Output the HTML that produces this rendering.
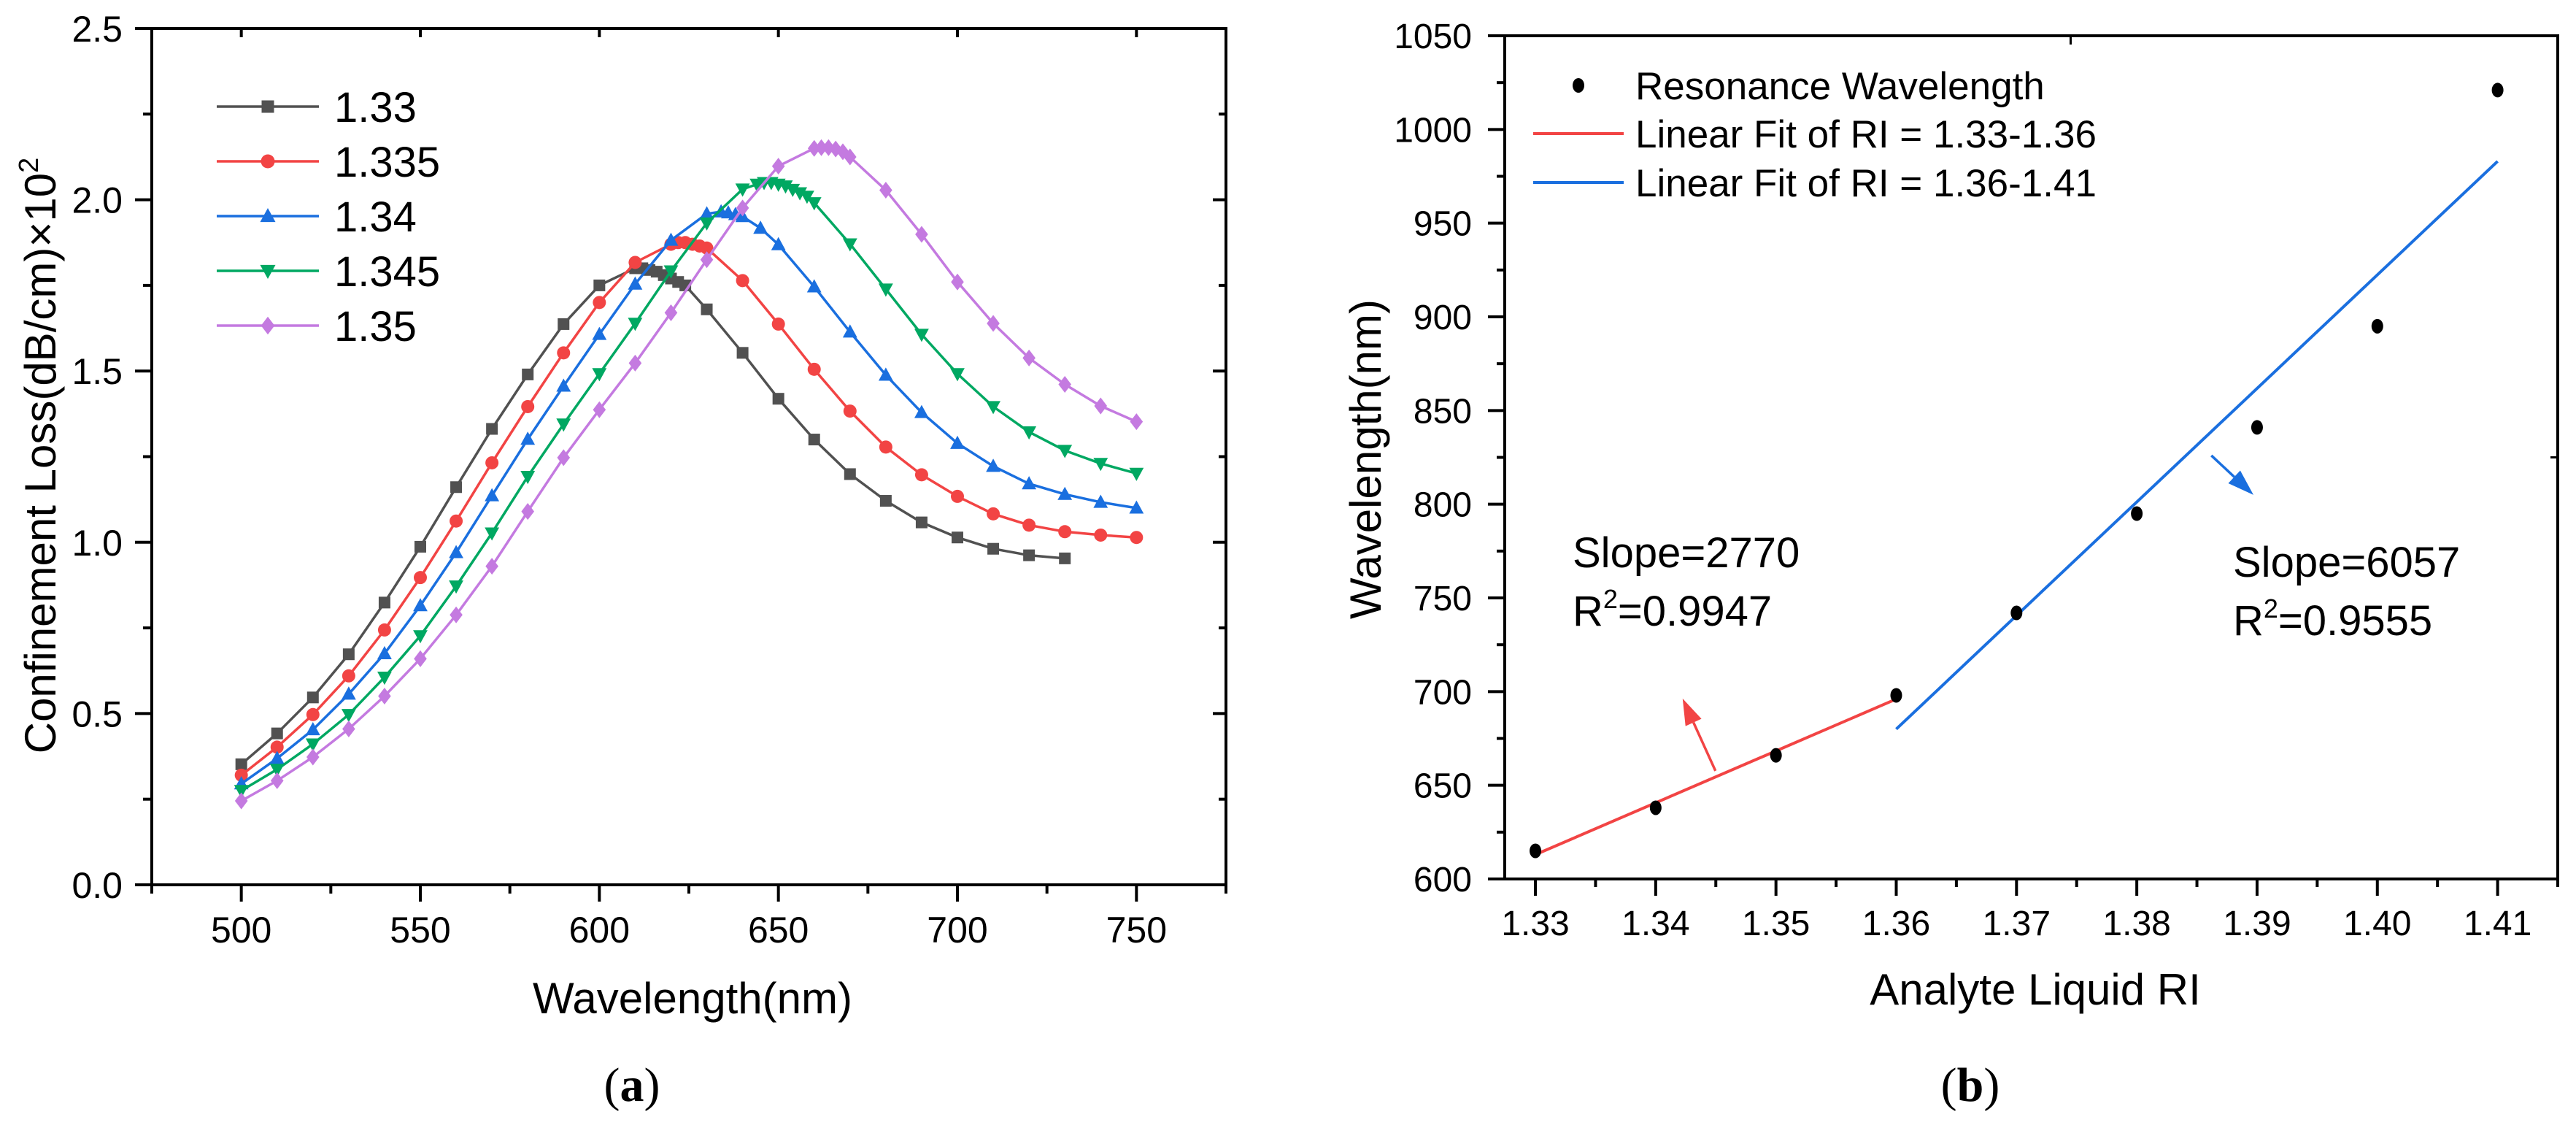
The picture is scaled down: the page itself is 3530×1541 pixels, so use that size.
<!DOCTYPE html>
<html><head><meta charset="utf-8">
<style>
html,body{margin:0;padding:0;background:#fff;}
svg{display:block;font-family:"Liberation Sans",Arial,sans-serif;}
</style></head>
<body>
<svg id="fig" width="3530" height="1541" viewBox="0 0 3530 1541" xmlns="http://www.w3.org/2000/svg">
<rect width="3530" height="1541" fill="#fff"/>
<g id="pa"></g>
<g id="pb"></g>
</svg>
<script>
// ---------- Panel (a) data ----------
const aXTicks = [500, 550, 600, 650, 700, 750];
const aYTicks = [0.0, 0.5, 1.0, 1.5, 2.0, 2.5];
const aNames = ["1.33", "1.335", "1.34", "1.345", "1.35"];
const aColors = ["#515151", "#f24444", "#1a6fdf", "#00a862", "#c47ae0"];
const aMarkers = ["square", "circle", "up", "down", "diamond"];
const x133 = [500,510,520,530,540,550,560,570,580,590,600,610,612,614,616,618,620,622,624,630,640,650,660,670,680,690,700,710,720,730];
const y133 = [0.352,0.442,0.547,0.673,0.824,0.987,1.161,1.331,1.49,1.637,1.75,1.80,1.80,1.795,1.79,1.78,1.77,1.76,1.75,1.68,1.553,1.419,1.30,1.199,1.121,1.058,1.014,0.981,0.962,0.953];
const x1335 = [500,510,520,530,540,550,560,570,580,590,600,610,620,622,624,626,628,630,640,650,660,670,680,690,700,710,720,730,740,750];
const y1335 = [0.32,0.402,0.497,0.61,0.744,0.897,1.062,1.232,1.396,1.553,1.70,1.817,1.87,1.875,1.875,1.87,1.865,1.859,1.764,1.637,1.505,1.383,1.278,1.197,1.134,1.083,1.05,1.031,1.021,1.014];
const x134 = [500,510,520,530,540,550,560,570,580,590,600,610,620,630,634,636,638,640,645,650,660,670,680,690,700,710,720,730,740,750];
const y134 = [0.295,0.369,0.453,0.557,0.675,0.815,0.970,1.136,1.301,1.456,1.607,1.754,1.882,1.959,1.965,1.962,1.957,1.951,1.917,1.869,1.746,1.614,1.488,1.379,1.289,1.222,1.171,1.14,1.117,1.10];
const x1345 = [500,510,520,530,540,550,560,570,580,590,600,610,620,630,640,644,646,648,650,652,654,656,658,660,670,680,690,700,710,720,730,740,750];
const y1345 = [0.275,0.337,0.411,0.497,0.606,0.727,0.872,1.027,1.192,1.345,1.492,1.639,1.792,1.932,2.031,2.045,2.05,2.05,2.045,2.04,2.03,2.02,2.01,1.991,1.871,1.739,1.607,1.492,1.396,1.322,1.268,1.230,1.201];
const x135 = [500,510,520,530,540,550,560,570,580,590,600,610,620,630,640,650,660,662,664,666,668,670,680,690,700,710,720,730,740,750];
const y135 = [0.245,0.304,0.373,0.455,0.551,0.66,0.788,0.93,1.09,1.247,1.387,1.523,1.67,1.825,1.976,2.098,2.15,2.152,2.152,2.148,2.14,2.125,2.028,1.899,1.760,1.639,1.538,1.461,1.398,1.352];
const aXs = [x133, x1335, x134, x1345, x135];
const aYs = [y133, y1335, y134, y1345, y135];

// ---------- Panel (b) data ----------
const bXTicks = [1.33,1.34,1.35,1.36,1.37,1.38,1.39,1.40,1.41];
const bXTickLabels = ["1.33","1.34","1.35","1.36","1.37","1.38","1.39","1.40","1.41"];
const bYTicks = [600,650,700,750,800,850,900,950,1000,1050];
const bRI = [1.33,1.34,1.35,1.36,1.37,1.38,1.39,1.40,1.41];
const bRes = [615,638,666,698,742,795,841,895,1021];
const fit1X = [1.33, 1.36];
const fit1Y = [613, 696];
const fit2X = [1.36, 1.41];
const fit2Y = [680, 983];
const arrow1 = [1.34497, 657.7, 1.34224, 696.3];
const arrow2 = [1.3862, 826, 1.3897, 805];

const NS = "http://www.w3.org/2000/svg";
function mk(parent, tag, attrs, text) {
  const e = document.createElementNS(NS, tag);
  for (const k in attrs) e.setAttribute(k, attrs[k]);
  if (text !== undefined) e.textContent = text;
  parent.appendChild(e);
  return e;
}

// ===== Panel a =====
const pa = document.getElementById("pa");
const aL = 208, aR = 1680, aT = 39, aB = 1212;
const aXmin = 475, aXmax = 775, aYmin = 0, aYmax = 2.5;
function ax(v) { return aL + (v - aXmin) / (aXmax - aXmin) * (aR - aL); }
function ay(v) { return aB - (v - aYmin) / (aYmax - aYmin) * (aB - aT); }

function marker(parent, type, cx, cy, s, color) {
  let e;
  if (type === "square") e = mk(parent, "rect", {x: cx - s/2, y: cy - s/2, width: s, height: s, fill: color});
  else if (type === "circle") e = mk(parent, "circle", {cx: cx, cy: cy, r: s/2 + 1, fill: color});
  else if (type === "up") e = mk(parent, "polygon", {points: `${cx},${cy - s*0.65} ${cx - s*0.62},${cy + s*0.48} ${cx + s*0.62},${cy + s*0.48}`, fill: color});
  else if (type === "down") e = mk(parent, "polygon", {points: `${cx},${cy + s*0.65} ${cx - s*0.62},${cy - s*0.48} ${cx + s*0.62},${cy - s*0.48}`, fill: color});
  else e = mk(parent, "polygon", {points: `${cx},${cy - s*0.72} ${cx + s*0.55},${cy} ${cx},${cy + s*0.72} ${cx - s*0.55},${cy}`, fill: color});
  return e;
}

for (let s = 0; s < aNames.length; s++) {
  const g = mk(pa, "g", {});
  
  
  const xs = aXs[s], ys = aYs[s];
  let d = "";
  for (let i = 0; i < xs.length; i++) d += (i ? "L" : "M") + ax(xs[i]).toFixed(1) + "," + ay(ys[i]).toFixed(1);
  const ln = mk(g, "path", {d: d, fill: "none", stroke: aColors[s], "stroke-width": 3.5, "stroke-linejoin": "round"});
  
  
  for (let i = 0; i < xs.length; i++) {
    const m = marker(g, aMarkers[s], ax(xs[i]), ay(ys[i]), 16, aColors[s]);
    
    
  }
}

// axes a
mk(pa, "rect", {x: aL, y: aT, width: aR - aL, height: aB - aT, fill: "none", stroke: "#000", "stroke-width": 4});
for (const v of aXTicks) {
  const t = mk(pa, "line", {x1: ax(v), y1: aB, x2: ax(v), y2: aB + 23, stroke: "#000", "stroke-width": 4});
  
  
  const lb = mk(pa, "text", {x: ax(v), y: aB + 79, "font-size": 50, "text-anchor": "middle"}, String(v));
  
  
}
for (let v = 475; v <= 775; v += 50) {
  mk(pa, "line", {x1: ax(v), y1: aB, x2: ax(v), y2: aB + 12, stroke: "#000", "stroke-width": 4});
}
for (const v of aYTicks) {
  const t = mk(pa, "line", {x1: aL - 23, y1: ay(v), x2: aL, y2: ay(v), stroke: "#000", "stroke-width": 4});
  
  
  mk(pa, "line", {x1: aR - 18, y1: ay(v), x2: aR, y2: ay(v), stroke: "#000", "stroke-width": 4});
  const lb = mk(pa, "text", {x: 168, y: ay(v) + 18, "font-size": 50, "text-anchor": "end"}, v.toFixed(1));
  
  
}
for (let v = 0.25; v < 2.5; v += 0.5) {
  mk(pa, "line", {x1: aL - 12, y1: ay(v), x2: aL, y2: ay(v), stroke: "#000", "stroke-width": 4});
  mk(pa, "line", {x1: aR - 10, y1: ay(v), x2: aR, y2: ay(v), stroke: "#000", "stroke-width": 4});
}
for (let v = 500; v <= 750; v += 50) {
  mk(pa, "line", {x1: ax(v), y1: aT, x2: ax(v), y2: aT + 12, stroke: "#000", "stroke-width": 4});
}
// legend a
for (let s = 0; s < aNames.length; s++) {
  const cy = 146 + s * 75;
  const g = mk(pa, "g", {});
  
  
  mk(g, "line", {x1: 297, y1: cy, x2: 437, y2: cy, stroke: aColors[s], "stroke-width": 3.5});
  marker(g, aMarkers[s], 367, cy, 17, aColors[s]);
  mk(g, "text", {x: 458, y: cy + 21, "font-size": 58}, aNames[s]);
}
const ayl = mk(pa, "text", {x: 0, y: 0, "font-size": 60, "text-anchor": "middle", transform: "translate(76,624) rotate(-90)"});


ayl.innerHTML = 'Confinement Loss(dB/cm)×10<tspan dy="-24" font-size="38">2</tspan>';
const axl = mk(pa, "text", {x: 949, y: 1388, "font-size": 60, "text-anchor": "middle"}, "Wavelength(nm)");


const capA = mk(pa, "text", {x: 866, y: 1508, "font-size": 66, "text-anchor": "middle", "font-family": "Liberation Serif, serif"});


capA.innerHTML = '(<tspan font-weight="bold">a</tspan>)';

// ===== Panel b =====
const pb = document.getElementById("pb");
const bL = 2062, bR = 3505, bT = 49, bB = 1204;
const bXmin = 1.32745, bXmax = 1.4150, bYmin = 600, bYmax = 1050;
function bx(v) { return bL + (v - bXmin) / (bXmax - bXmin) * (bR - bL); }
function by(v) { return bB - (v - bYmin) / (bYmax - bYmin) * (bB - bT); }

mk(pb, "rect", {x: bL, y: bT, width: bR - bL, height: bB - bT, fill: "none", stroke: "#000", "stroke-width": 4});
for (let i = 0; i < bXTicks.length; i++) {
  const v = bXTicks[i];
  const t = mk(pb, "line", {x1: bx(v), y1: bB, x2: bx(v), y2: bB + 23, stroke: "#000", "stroke-width": 4});
  
  
  mk(pb, "line", {x1: bx(v + 0.005), y1: bB, x2: bx(v + 0.005), y2: bB + 11, stroke: "#000", "stroke-width": 4});
  const lb = mk(pb, "text", {x: bx(v), y: bB + 77, "font-size": 48, "text-anchor": "middle"}, bXTickLabels[i]);
  
  
}
for (const v of bYTicks) {
  const t = mk(pb, "line", {x1: bL - 23, y1: by(v), x2: bL, y2: by(v), stroke: "#000", "stroke-width": 4});
  
  
  if (v < 1050) mk(pb, "line", {x1: bL - 11, y1: by(v + 25), x2: bL, y2: by(v + 25), stroke: "#000", "stroke-width": 4});
  const lb = mk(pb, "text", {x: 2017, y: by(v) + 17, "font-size": 48, "text-anchor": "end"}, String(v));
  
  
}
mk(pb, "line", {x1: bx(1.3745), y1: bT, x2: bx(1.3745), y2: bT + 12, stroke: "#000", "stroke-width": 3});
mk(pb, "line", {x1: bR - 10, y1: by(825), x2: bR, y2: by(825), stroke: "#000", "stroke-width": 3});

// fit lines
const f1 = mk(pb, "line", {x1: bx(fit1X[0]), y1: by(fit1Y[0]), x2: bx(fit1X[1]), y2: by(fit1Y[1]), stroke: "#f24444", "stroke-width": 4});


const f2 = mk(pb, "line", {x1: bx(fit2X[0]), y1: by(fit2Y[0]), x2: bx(fit2X[1]), y2: by(fit2Y[1]), stroke: "#1a6fdf", "stroke-width": 4});


// points
for (let i = 0; i < bRI.length; i++) {
  const c = mk(pb, "ellipse", {cx: bx(bRI[i]), cy: by(bRes[i]), rx: 8, ry: 10, fill: "#000"});
  
  
}
// arrows
function arrow(a, color, name) {
  const x1 = bx(a[0]), y1 = by(a[1]), x2 = bx(a[2]), y2 = by(a[3]);
  const ang = Math.atan2(y2 - y1, x2 - x1), L = 36, W = 12;
  const bxp = x2 - L * Math.cos(ang), byp = y2 - L * Math.sin(ang);
  const g = mk(pb, "g", {});
  
  
  mk(g, "line", {x1: x1, y1: y1, x2: bxp, y2: byp, stroke: color, "stroke-width": 3.5});
  mk(g, "polygon", {points: `${x2},${y2} ${bxp - W*Math.sin(ang)},${byp + W*Math.cos(ang)} ${bxp + W*Math.sin(ang)},${byp - W*Math.cos(ang)}`, fill: color});
}
arrow(arrow1, "#f24444", "arrow-red");
arrow(arrow2, "#1a6fdf", "arrow-blue");

// annotations
const s1 = mk(pb, "text", {x: 2155, y: 777, "font-size": 58}, "Slope=2770");


const r1 = mk(pb, "text", {x: 2155, y: 857, "font-size": 58});


r1.innerHTML = 'R<tspan dy="-24" font-size="36">2</tspan><tspan dy="24">=0.9947</tspan>';
const s2 = mk(pb, "text", {x: 3060, y: 790, "font-size": 58}, "Slope=6057");


const r2 = mk(pb, "text", {x: 3060, y: 870, "font-size": 58});


r2.innerHTML = 'R<tspan dy="-24" font-size="36">2</tspan><tspan dy="24">=0.9555</tspan>';

// legend b
const lg = mk(pb, "g", {});


mk(lg, "ellipse", {cx: 2163, cy: 117, rx: 8, ry: 10, fill: "#000"});
mk(lg, "text", {x: 2241, y: 136, "font-size": 53}, "Resonance Wavelength");
mk(lg, "line", {x1: 2101, y1: 183, x2: 2225, y2: 183, stroke: "#f24444", "stroke-width": 4});
mk(lg, "text", {x: 2241, y: 202, "font-size": 53}, "Linear Fit of RI = 1.33-1.36");
mk(lg, "line", {x1: 2101, y1: 250, x2: 2225, y2: 250, stroke: "#1a6fdf", "stroke-width": 4});
mk(lg, "text", {x: 2241, y: 269, "font-size": 53}, "Linear Fit of RI = 1.36-1.41");

const byl = mk(pb, "text", {x: 0, y: 0, "font-size": 60, "text-anchor": "middle", transform: "translate(1892,629) rotate(-90)"}, "Wavelength(nm)");


const bxl = mk(pb, "text", {x: 2789, y: 1376, "font-size": 60, "text-anchor": "middle"}, "Analyte Liquid RI");


const capB = mk(pb, "text", {x: 2700, y: 1508, "font-size": 66, "text-anchor": "middle", "font-family": "Liberation Serif, serif"});


capB.innerHTML = '(<tspan font-weight="bold">b</tspan>)';
</script>
</body></html>
